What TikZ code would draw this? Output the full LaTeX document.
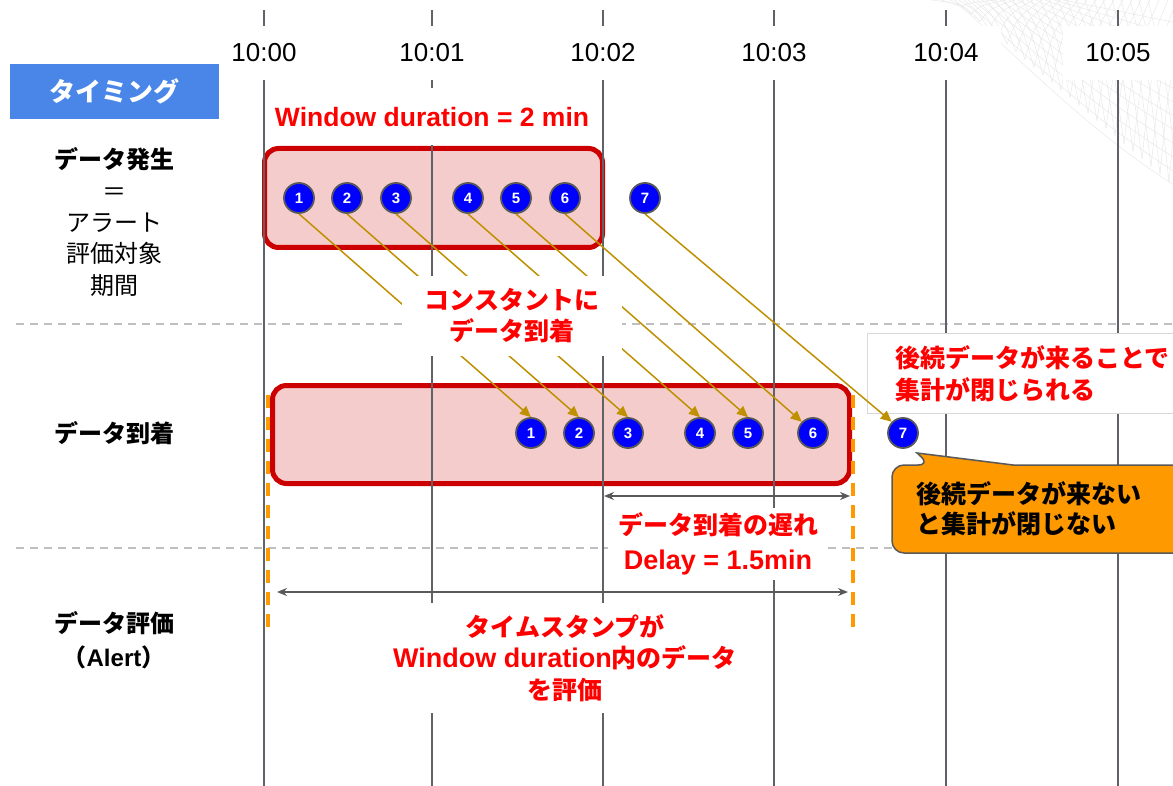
\documentclass[tikz,border=0pt]{standalone}
\usepackage{fontspec}
\setmainfont{Noto Sans CJK JP}
\newfontfamily\latinfont{Liberation Sans}
\usetikzlibrary{arrows.meta}
\definecolor{axisgray}{RGB}{95,99,104}
\definecolor{winred}{RGB}{204,0,0}
\definecolor{winfill}{RGB}{244,204,204}
\definecolor{gold}{RGB}{191,144,0}
\definecolor{ptblue}{RGB}{0,0,255}
\definecolor{ptborder}{RGB}{89,89,89}
\definecolor{orng}{RGB}{255,153,0}
\definecolor{dashgray}{RGB}{191,191,191}
\definecolor{titleblue}{RGB}{74,134,232}
\definecolor{txtred}{RGB}{255,0,0}
\definecolor{meshgray}{RGB}{230,230,230}
\definecolor{boxgray}{RGB}{217,217,217}
\begin{document}
\begin{tikzpicture}[x=1pt,y=-1pt,
  vline/.style={draw=axisgray, line width=2},
  hdash/.style={draw=dashgray, line width=2, dash pattern=on 8pt off 6pt},
  odash/.style={draw=orng, line width=3.5, dash pattern=on 13pt off 8.9pt},
  meshline/.style={draw=meshgray, line width=0.4},
  timelbl/.style={fill=white, minimum width=110, minimum height=54, inner sep=0, font=\latinfont\fontsize{26}{30}\selectfont},
  win/.style={rectangle, draw=winred, fill=winfill, line width=5, rounded corners=14, inner sep=0},
  pt/.style={circle, fill=ptblue, draw=ptborder, line width=1.8, minimum size=30, inner sep=0, text=white, font=\latinfont\bfseries\fontsize{15}{15}\selectfont},
  garrow/.style={draw=gold, line width=1.5, -{Triangle[length=11pt,width=10pt]}},
  darrow/.style={draw=ptborder, line width=1.5, {Stealth[length=10pt,width=8pt]}-{Stealth[length=10pt,width=8pt]}},
  redlbl/.style={fill=white, inner sep=0, text=txtred, align=center, font=\bfseries\fontsize{25}{31}\selectfont},
  sidelbl/.style={inner sep=0, align=center, font=\fontsize{24}{31.3}\selectfont}
]
\useasboundingbox (0,0) rectangle (1173,786);
\fill[white] (0,0) rectangle (1173,786);

% decorative mesh
\begin{scope}
\clip (0,0) rectangle (1173,786);
\foreach \k in {0,...,12} {
  \pgfmathsetmacro\sx{955+9*\k}
  \pgfmathsetmacro\ca{1030+7*\k}
  \pgfmathsetmacro\cb{70-5*\k}
  \pgfmathsetmacro\cc{1100+5*\k}
  \pgfmathsetmacro\cd{140-10*\k}
  \pgfmathsetmacro\ey{192-14*\k}
  \draw[meshline] (\sx,0) .. controls (\ca,\cb) and (\cc,\cd) .. (1185,\ey);
}
\foreach \j in {0,...,24} {
  \pgfmathsetmacro\xa{962+9*\j}
  \pgfmathsetmacro\ya{0.85*(\xa-955)}
  \pgfmathsetmacro\xb{\xa+10}
  \pgfmathsetmacro\yb{\ya*0.4}
  \pgfmathsetmacro\xc{\xa+35}
  \draw[meshline] (\xa,\ya) .. controls (\xb,\yb) .. (\xc,0);
  \pgfmathsetmacro\xd{\xa-30}
  \pgfmathsetmacro\xe{\xa-12}
  \draw[meshline] (\xa,\ya) .. controls (\xe,\yb) .. (\xd,0);
}
\end{scope}

% windows
\node[win, minimum width=338, minimum height=99] (w1) at (433.5,198) {};
\node[win, minimum width=577, minimum height=98] (w2) at (561,434.5) {};

% horizontal dashed separators
\draw[hdash] (16,324) -- (1173,324);
\draw[hdash] (16,548) -- (1173,548);

% time grid
\foreach \x in {264,432,603,774,946,1118}
  \draw[vline] (\x,10) -- (\x,786);
\foreach \x/\t/\n in {264/10:00/0,432/10:01/1,603/10:02/2,774/10:03/3,946/10:04/4,1118/10:05/5}
  \node[timelbl] (t\n) at (\x,53) {\t};

% orange dashed limits
\draw[odash] (268,395) -- (268,627);
\draw[odash] (853,395) -- (853,627);

% late-arrival note box
\node[draw=boxgray, fill=white, line width=0.8, minimum width=330, minimum height=80, inner sep=0, anchor=north west] (latebox) at (867,333) {};
\node[inner sep=0, text=txtred, align=left, anchor=west, font=\bfseries\fontsize{25}{32}\selectfont] (latetxt) at (895,374) {後続データが来ることで\\集計が閉じられる};

% data points
\foreach \x/\n in {299/1,347/2,396/3,468/4,516/5,565/6,645/7}
  \node[pt] (a\n) at (\x,198) {\n};
\foreach \x/\n in {531/1,579/2,628/3,700/4,748/5,813/6,903/7}
  \node[pt] (b\n) at (\x,433) {\n};

% arrivals
\foreach \n in {1,...,5}
  \draw[garrow] (a\n.south) -- (b\n.north);
\draw[garrow] (a6.south) -- (b6.north west);
\draw[garrow] (a7.south) -- (b7.north west);

% spans
\coordinate (dl) at (604,496);
\coordinate (dr) at (850,496);
\draw[darrow] (dl) -- (dr);
\coordinate (el) at (277,592);
\coordinate (er) at (848,592);
\draw[darrow] (el) -- (er);

% labels on the chart
\node[redlbl, minimum height=57, inner xsep=6, font=\latinfont\bfseries\fontsize{26.5}{31}\selectfont] (wlbl) at (432,117) {Window duration = 2 min};
\node[redlbl, minimum width=220, minimum height=80] (const) at (512,316) {コンスタントに\\データ到着};
\node[redlbl, minimum width=220, minimum height=72, font=\bfseries\fontsize{25}{35}\selectfont] (delay) at (718,544) {データ到着の遅れ\\{\latinfont\fontsize{27}{35}\selectfont Delay = 1.5min}};
\node[redlbl, minimum width=350, minimum height=110, font=\bfseries\fontsize{25}{31.5}\selectfont] (ts) at (565,658) {タイムスタンプが\\{\latinfont\fontsize{27}{31.5}\selectfont Window duration}内のデータ\\を評価};

% left column
\node[rectangle, fill=titleblue, minimum width=209, minimum height=55, inner sep=0, text=white, font=\bfseries\fontsize{26}{30}\selectfont] (title) at (114.5,91.5) {タイミング};
\node[sidelbl] (gen) at (114,222) {{\bfseries データ発生}\\＝\\アラート\\評価対象\\期間};
\node[sidelbl, font=\bfseries\fontsize{24}{31}\selectfont] (arr) at (114,433) {データ到着};
\node[sidelbl, font=\bfseries\fontsize{24}{34}\selectfont] (evl) at (114,640) {データ評価\\（{\latinfont Alert}）};

% callout
\path[draw=ptborder, fill=orng, line width=1.5] (892,509) [rounded corners=12] |- (930,465) [sharp corners] -- (917,453) -- (1013,465) -- (1190,465) -- (1190,553) [rounded corners=12] -| cycle;
\node[inner sep=0, align=left, anchor=west, font=\bfseries\fontsize{25}{30}\selectfont] (cotxt) at (916,509) {後続データが来ない\\と集計が閉じない};
\end{tikzpicture}
\end{document}
